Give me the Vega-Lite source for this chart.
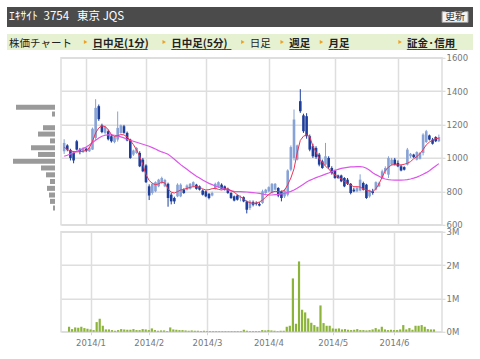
{
  "$schema": "https://vega.github.io/schema/vega-lite/v6.json",
  "background": "white",
  "padding": {"left": 7, "top": 7, "right": 0, "bottom": 0},
  "spacing": 7,
  "config": {
    "view": {"stroke": null},
    "axis": {"labelFont": "DejaVu Sans", "labelFontSize": 8.5, "labelColor": "#777777", "gridColor": "#dedede", "gridWidth": 1.5, "tickColor": "#d4d4d4", "tickSize": 3, "labelPadding": 1, "domain": false, "labelOverlap": false},
    "text": {"font": "Noto Sans CJK JP"}
  },
  "datasets": {
    "ohlc": [
      {"i":0,"date":"2013-12-19","o":1040,"h":1112,"l":1024,"c":1090,"v":150000,"maS":1065,"maL":1010},
      {"i":1,"date":"2013-12-20","o":1075,"h":1082,"l":1040,"c":1050,"v":80000,"maS":1050,"maL":1016},
      {"i":2,"date":"2013-12-24","o":1048,"h":1055,"l":985,"c":1000,"v":130000,"maS":1042,"maL":1024},
      {"i":3,"date":"2013-12-25","o":1030,"h":1040,"l":968,"c":985,"v":120000,"maS":1038,"maL":1032},
      {"i":4,"date":"2013-12-26","o":1100,"h":1108,"l":1045,"c":1050,"v":150000,"maS":1036,"maL":1040},
      {"i":5,"date":"2013-12-27","o":1050,"h":1060,"l":1022,"c":1040,"v":110000,"maS":1038,"maL":1048},
      {"i":6,"date":"2013-12-30","o":1035,"h":1065,"l":1030,"c":1058,"v":90000,"maS":1040,"maL":1056},
      {"i":7,"date":"2014-01-06","o":1055,"h":1062,"l":1035,"c":1042,"v":70000,"maS":1046,"maL":1066},
      {"i":8,"date":"2014-01-07","o":1040,"h":1068,"l":1036,"c":1062,"v":50000,"maS":1060,"maL":1078},
      {"i":9,"date":"2014-01-08","o":1050,"h":1182,"l":1048,"c":1175,"v":290000,"maS":1100,"maL":1092},
      {"i":10,"date":"2014-01-09","o":1120,"h":1352,"l":1108,"c":1300,"v":390000,"maS":1150,"maL":1106},
      {"i":11,"date":"2014-01-10","o":1310,"h":1320,"l":1222,"c":1232,"v":180000,"maS":1180,"maL":1120},
      {"i":12,"date":"2014-01-14","o":1195,"h":1205,"l":1148,"c":1155,"v":70000,"maS":1192,"maL":1130},
      {"i":13,"date":"2014-01-15","o":1150,"h":1192,"l":1140,"c":1185,"v":70000,"maS":1188,"maL":1136},
      {"i":14,"date":"2014-01-16","o":1160,"h":1170,"l":1105,"c":1112,"v":50000,"maS":1170,"maL":1138},
      {"i":15,"date":"2014-01-17","o":1130,"h":1140,"l":1092,"c":1100,"v":30000,"maS":1140,"maL":1138},
      {"i":16,"date":"2014-01-20","o":1095,"h":1130,"l":1088,"c":1125,"v":50000,"maS":1128,"maL":1136},
      {"i":17,"date":"2014-01-21","o":1110,"h":1278,"l":1098,"c":1180,"v":80000,"maS":1134,"maL":1132},
      {"i":18,"date":"2014-01-22","o":1150,"h":1200,"l":1145,"c":1195,"v":70000,"maS":1140,"maL":1126},
      {"i":19,"date":"2014-01-23","o":1190,"h":1198,"l":1145,"c":1150,"v":60000,"maS":1138,"maL":1120},
      {"i":20,"date":"2014-01-24","o":1150,"h":1158,"l":1100,"c":1105,"v":60000,"maS":1125,"maL":1112},
      {"i":21,"date":"2014-01-27","o":1110,"h":1115,"l":995,"c":1000,"v":80000,"maS":1105,"maL":1106},
      {"i":22,"date":"2014-01-28","o":1020,"h":1050,"l":1012,"c":1045,"v":50000,"maS":1080,"maL":1100},
      {"i":23,"date":"2014-01-29","o":1030,"h":1065,"l":1025,"c":1060,"v":50000,"maS":1048,"maL":1094},
      {"i":24,"date":"2014-01-30","o":1030,"h":1040,"l":945,"c":950,"v":80000,"maS":1010,"maL":1088},
      {"i":25,"date":"2014-01-31","o":990,"h":1000,"l":915,"c":920,"v":70000,"maS":960,"maL":1082},
      {"i":26,"date":"2014-02-03","o":955,"h":962,"l":850,"c":855,"v":50000,"maS":900,"maL":1076},
      {"i":27,"date":"2014-02-04","o":830,"h":842,"l":748,"c":775,"v":100000,"maS":865,"maL":1070},
      {"i":28,"date":"2014-02-05","o":790,"h":852,"l":780,"c":845,"v":50000,"maS":848,"maL":1062},
      {"i":29,"date":"2014-02-06","o":800,"h":860,"l":795,"c":855,"v":30000,"maS":840,"maL":1054},
      {"i":30,"date":"2014-02-07","o":830,"h":875,"l":825,"c":870,"v":40000,"maS":845,"maL":1044},
      {"i":31,"date":"2014-02-10","o":850,"h":888,"l":845,"c":880,"v":40000,"maS":855,"maL":1036},
      {"i":32,"date":"2014-02-12","o":830,"h":875,"l":825,"c":868,"v":20000,"maS":850,"maL":1030},
      {"i":33,"date":"2014-02-13","o":845,"h":852,"l":708,"c":760,"v":130000,"maS":815,"maL":1022},
      {"i":34,"date":"2014-02-14","o":780,"h":790,"l":722,"c":740,"v":70000,"maS":795,"maL":1008},
      {"i":35,"date":"2014-02-17","o":760,"h":768,"l":725,"c":740,"v":60000,"maS":790,"maL":992},
      {"i":36,"date":"2014-02-18","o":770,"h":848,"l":765,"c":840,"v":50000,"maS":798,"maL":976},
      {"i":37,"date":"2014-02-19","o":770,"h":848,"l":765,"c":840,"v":50000,"maS":808,"maL":960},
      {"i":38,"date":"2014-02-20","o":810,"h":818,"l":785,"c":790,"v":40000,"maS":812,"maL":946},
      {"i":39,"date":"2014-02-21","o":810,"h":842,"l":805,"c":835,"v":30000,"maS":818,"maL":932},
      {"i":40,"date":"2014-02-24","o":815,"h":850,"l":810,"c":845,"v":40000,"maS":824,"maL":918},
      {"i":41,"date":"2014-02-25","o":830,"h":860,"l":825,"c":855,"v":30000,"maS":828,"maL":904},
      {"i":42,"date":"2014-02-26","o":840,"h":845,"l":810,"c":815,"v":30000,"maS":828,"maL":890},
      {"i":43,"date":"2014-02-27","o":830,"h":835,"l":805,"c":810,"v":20000,"maS":825,"maL":880},
      {"i":44,"date":"2014-02-28","o":805,"h":812,"l":775,"c":780,"v":30000,"maS":815,"maL":868},
      {"i":45,"date":"2014-03-03","o":800,"h":805,"l":765,"c":770,"v":20000,"maS":808,"maL":858},
      {"i":46,"date":"2014-03-04","o":785,"h":790,"l":752,"c":760,"v":20000,"maS":810,"maL":848},
      {"i":47,"date":"2014-03-05","o":775,"h":798,"l":770,"c":790,"v":20000,"maS":816,"maL":840},
      {"i":48,"date":"2014-03-06","o":815,"h":852,"l":810,"c":845,"v":20000,"maS":818,"maL":832},
      {"i":49,"date":"2014-03-07","o":825,"h":860,"l":820,"c":855,"v":20000,"maS":812,"maL":826},
      {"i":50,"date":"2014-03-10","o":840,"h":848,"l":812,"c":815,"v":20000,"maS":808,"maL":820},
      {"i":51,"date":"2014-03-11","o":830,"h":835,"l":805,"c":810,"v":20000,"maS":814,"maL":814},
      {"i":52,"date":"2014-03-12","o":815,"h":822,"l":785,"c":790,"v":20000,"maS":815,"maL":808},
      {"i":53,"date":"2014-03-13","o":790,"h":795,"l":755,"c":760,"v":20000,"maS":805,"maL":803},
      {"i":54,"date":"2014-03-14","o":770,"h":775,"l":740,"c":745,"v":20000,"maS":795,"maL":800},
      {"i":55,"date":"2014-03-17","o":775,"h":780,"l":745,"c":750,"v":20000,"maS":780,"maL":798},
      {"i":56,"date":"2014-03-18","o":760,"h":775,"l":740,"c":765,"v":20000,"maS":768,"maL":798},
      {"i":57,"date":"2014-03-19","o":765,"h":770,"l":735,"c":740,"v":60000,"maS":755,"maL":797},
      {"i":58,"date":"2014-03-20","o":740,"h":745,"l":668,"c":690,"v":30000,"maS":740,"maL":796},
      {"i":59,"date":"2014-03-24","o":700,"h":748,"l":688,"c":740,"v":20000,"maS":732,"maL":794},
      {"i":60,"date":"2014-03-25","o":735,"h":745,"l":710,"c":720,"v":20000,"maS":728,"maL":792},
      {"i":61,"date":"2014-03-26","o":730,"h":740,"l":715,"c":725,"v":20000,"maS":730,"maL":790},
      {"i":62,"date":"2014-03-27","o":725,"h":735,"l":710,"c":715,"v":20000,"maS":736,"maL":788},
      {"i":63,"date":"2014-03-28","o":730,"h":810,"l":725,"c":800,"v":50000,"maS":748,"maL":784},
      {"i":64,"date":"2014-03-31","o":790,"h":815,"l":785,"c":810,"v":40000,"maS":765,"maL":780},
      {"i":65,"date":"2014-04-01","o":800,"h":830,"l":795,"c":825,"v":50000,"maS":782,"maL":778},
      {"i":66,"date":"2014-04-02","o":790,"h":850,"l":785,"c":845,"v":40000,"maS":795,"maL":778},
      {"i":67,"date":"2014-04-03","o":810,"h":850,"l":805,"c":845,"v":30000,"maS":800,"maL":780},
      {"i":68,"date":"2014-04-04","o":820,"h":825,"l":765,"c":775,"v":20000,"maS":798,"maL":782},
      {"i":69,"date":"2014-04-07","o":800,"h":805,"l":740,"c":760,"v":30000,"maS":800,"maL":785},
      {"i":70,"date":"2014-04-08","o":770,"h":815,"l":760,"c":805,"v":30000,"maS":806,"maL":788},
      {"i":71,"date":"2014-04-09","o":780,"h":932,"l":770,"c":925,"v":150000,"maS":840,"maL":794},
      {"i":72,"date":"2014-04-10","o":930,"h":1075,"l":920,"c":1065,"v":180000,"maS":880,"maL":800},
      {"i":73,"date":"2014-04-11","o":1000,"h":1290,"l":985,"c":1230,"v":1600000,"maS":935,"maL":808},
      {"i":74,"date":"2014-04-14","o":990,"h":1080,"l":985,"c":1075,"v":240000,"maS":1030,"maL":818},
      {"i":75,"date":"2014-04-15","o":1340,"h":1412,"l":1270,"c":1280,"v":2110000,"maS":1105,"maL":830},
      {"i":76,"date":"2014-04-16","o":1255,"h":1265,"l":1150,"c":1160,"v":660000,"maS":1130,"maL":843},
      {"i":77,"date":"2014-04-17","o":1250,"h":1268,"l":1115,"c":1130,"v":580000,"maS":1138,"maL":856},
      {"i":78,"date":"2014-04-18","o":1130,"h":1140,"l":1040,"c":1050,"v":400000,"maS":1128,"maL":866},
      {"i":79,"date":"2014-04-21","o":1070,"h":1085,"l":1000,"c":1010,"v":270000,"maS":1070,"maL":874},
      {"i":80,"date":"2014-04-22","o":1060,"h":1070,"l":995,"c":1005,"v":200000,"maS":1035,"maL":882},
      {"i":81,"date":"2014-04-23","o":1020,"h":1030,"l":950,"c":960,"v":150000,"maS":995,"maL":889},
      {"i":82,"date":"2014-04-24","o":980,"h":990,"l":935,"c":940,"v":790000,"maS":975,"maL":896},
      {"i":83,"date":"2014-04-25","o":960,"h":1090,"l":955,"c":1010,"v":260000,"maS":950,"maL":903},
      {"i":84,"date":"2014-04-28","o":1000,"h":1010,"l":935,"c":945,"v":180000,"maS":935,"maL":910},
      {"i":85,"date":"2014-04-30","o":940,"h":950,"l":900,"c":910,"v":180000,"maS":912,"maL":918},
      {"i":86,"date":"2014-05-01","o":925,"h":930,"l":875,"c":880,"v":100000,"maS":898,"maL":925},
      {"i":87,"date":"2014-05-02","o":895,"h":900,"l":875,"c":880,"v":90000,"maS":885,"maL":932},
      {"i":88,"date":"2014-05-07","o":895,"h":900,"l":855,"c":860,"v":100000,"maS":875,"maL":938},
      {"i":89,"date":"2014-05-08","o":880,"h":885,"l":825,"c":830,"v":70000,"maS":860,"maL":941},
      {"i":90,"date":"2014-05-09","o":870,"h":880,"l":838,"c":845,"v":80000,"maS":848,"maL":944},
      {"i":91,"date":"2014-05-12","o":845,"h":850,"l":782,"c":790,"v":60000,"maS":838,"maL":946},
      {"i":92,"date":"2014-05-13","o":810,"h":822,"l":795,"c":800,"v":50000,"maS":828,"maL":947},
      {"i":93,"date":"2014-05-14","o":800,"h":828,"l":795,"c":822,"v":60000,"maS":828,"maL":948},
      {"i":94,"date":"2014-05-15","o":805,"h":902,"l":800,"c":870,"v":80000,"maS":826,"maL":948},
      {"i":95,"date":"2014-05-16","o":850,"h":858,"l":805,"c":810,"v":50000,"maS":815,"maL":946},
      {"i":96,"date":"2014-05-19","o":840,"h":845,"l":755,"c":760,"v":50000,"maS":808,"maL":938},
      {"i":97,"date":"2014-05-20","o":770,"h":810,"l":762,"c":805,"v":40000,"maS":802,"maL":926},
      {"i":98,"date":"2014-05-21","o":800,"h":815,"l":780,"c":790,"v":50000,"maS":798,"maL":912},
      {"i":99,"date":"2014-05-22","o":810,"h":860,"l":805,"c":855,"v":70000,"maS":815,"maL":900},
      {"i":100,"date":"2014-05-23","o":830,"h":858,"l":825,"c":850,"v":110000,"maS":845,"maL":890},
      {"i":101,"date":"2014-05-26","o":880,"h":930,"l":875,"c":920,"v":70000,"maS":885,"maL":880},
      {"i":102,"date":"2014-05-27","o":920,"h":950,"l":905,"c":940,"v":150000,"maS":925,"maL":874},
      {"i":103,"date":"2014-05-28","o":900,"h":1010,"l":880,"c":1000,"v":70000,"maS":945,"maL":870},
      {"i":104,"date":"2014-05-29","o":960,"h":1000,"l":955,"c":990,"v":50000,"maS":958,"maL":868},
      {"i":105,"date":"2014-05-30","o":990,"h":1000,"l":955,"c":960,"v":60000,"maS":960,"maL":867},
      {"i":106,"date":"2014-06-02","o":970,"h":985,"l":945,"c":950,"v":50000,"maS":958,"maL":867},
      {"i":107,"date":"2014-06-03","o":950,"h":960,"l":920,"c":925,"v":50000,"maS":958,"maL":867},
      {"i":108,"date":"2014-06-04","o":945,"h":950,"l":925,"c":930,"v":70000,"maS":962,"maL":868},
      {"i":109,"date":"2014-06-05","o":960,"h":1060,"l":955,"c":1050,"v":200000,"maS":968,"maL":870},
      {"i":110,"date":"2014-06-06","o":1010,"h":1030,"l":1000,"c":1025,"v":70000,"maS":978,"maL":874},
      {"i":111,"date":"2014-06-09","o":1020,"h":1025,"l":1000,"c":1005,"v":110000,"maS":995,"maL":879},
      {"i":112,"date":"2014-06-10","o":990,"h":1040,"l":985,"c":1035,"v":60000,"maS":1008,"maL":885},
      {"i":113,"date":"2014-06-11","o":995,"h":1035,"l":990,"c":1030,"v":180000,"maS":1025,"maL":893},
      {"i":114,"date":"2014-06-12","o":1030,"h":1148,"l":1015,"c":1140,"v":180000,"maS":1050,"maL":902},
      {"i":115,"date":"2014-06-13","o":1095,"h":1168,"l":1090,"c":1160,"v":200000,"maS":1078,"maL":912},
      {"i":116,"date":"2014-06-16","o":1135,"h":1140,"l":1105,"c":1110,"v":150000,"maS":1095,"maL":924},
      {"i":117,"date":"2014-06-17","o":1110,"h":1120,"l":1080,"c":1085,"v":80000,"maS":1108,"maL":938},
      {"i":118,"date":"2014-06-18","o":1125,"h":1130,"l":1095,"c":1100,"v":70000,"maS":1115,"maL":952},
      {"i":119,"date":"2014-06-19","o":1100,"h":1140,"l":1095,"c":1125,"v":70000,"maS":1118,"maL":966}
    ],
    "vbp": [
      {"lo":1288,"hi":1318,"vol":39},
      {"lo":1248,"hi":1278,"vol":3},
      {"lo":1166,"hi":1196,"vol":12},
      {"lo":1128,"hi":1158,"vol":17},
      {"lo":1087,"hi":1117,"vol":5},
      {"lo":1046,"hi":1076,"vol":24},
      {"lo":1006,"hi":1036,"vol":17},
      {"lo":965,"hi":995,"vol":42},
      {"lo":925,"hi":955,"vol":14},
      {"lo":884,"hi":914,"vol":9},
      {"lo":844,"hi":874,"vol":5},
      {"lo":803,"hi":833,"vol":8},
      {"lo":763,"hi":793,"vol":6},
      {"lo":725,"hi":755,"vol":5},
      {"lo":685,"hi":715,"vol":2}
    ]
  },
  "vconcat": [
    {
      "width": 466, "height": 20,
      "view": {"fill": "#4b4b4b", "stroke": null},
      "data": {"values": [{"label": "ｴｷｻｲﾄ\u20023754\u2002\u2009東京 JQS", "side": "left"}, {"label": "更新", "side": "right"}]},
      "encoding": {"x": {"field": "side", "type": "nominal", "axis": null, "scale": {"type": "band", "domain": ["left", "right"], "paddingInner": 0, "paddingOuter": 0}}},
      "layer": [
        {"transform": [{"filter": "datum.side == 'left'"}], "mark": {"type": "text", "align": "left", "dx": 2, "fontSize": 11.5, "color": "#ffffff"}, "encoding": {"x": {"field": "side", "type": "nominal", "bandPosition": 0}, "text": {"field": "label"}}},
        {"transform": [{"filter": "datum.side == 'right'"}], "mark": {"type": "point", "shape": "M-1.3,-0.54H1.3V0.54H-1.3Z", "size": 400, "filled": true, "fill": "#f3f3f3", "stroke": "#999999", "strokeWidth": 1, "opacity": 1}, "encoding": {"x": {"field": "side", "type": "nominal", "bandPosition": 0.923}}},
        {"transform": [{"filter": "datum.side == 'right'"}], "mark": {"type": "text", "align": "center", "fontSize": 10, "color": "#333333"}, "encoding": {"x": {"field": "side", "type": "nominal", "bandPosition": 0.923}, "text": {"field": "label"}}}
      ]
    },
    {
      "spacing": 2.75,
      "vconcat": [
        {
          "width": 466, "height": 16,
          "view": {"fill": "#e6f1d2", "stroke": null},
          "data": {"values": [
            {"label": "株価チャート", "kind": "head", "ul": ""},
            {"label": "日中足(1分)", "kind": "link", "ul": "___________"},
            {"label": "日中足(5分)", "kind": "link", "ul": "____________"},
            {"label": "日足", "kind": "plain", "ul": ""},
            {"label": "週足", "kind": "link", "ul": "____"},
            {"label": "月足", "kind": "link", "ul": "____"},
            {"label": "証金·信用", "kind": "link", "ul": "__________"}
          ]},
          "encoding": {"x": {"field": "label", "type": "nominal", "axis": null, "scale": {"type": "point", "domain": ["株価チャート", "_a", "日中足(1分)", "_b", "日中足(5分)", "_c", "日足", "週足", "月足", "_d", "証金·信用"], "padding": 0.927, "align": 0}}},
          "layer": [
            {"transform": [{"filter": "datum.kind != 'head'"}], "mark": {"type": "point", "shape": "triangle-right", "size": 16, "filled": true, "color": "#f0a020", "opacity": 1}},
            {"transform": [{"filter": "datum.kind == 'head'"}], "mark": {"type": "text", "align": "left", "baseline": "alphabetic", "dx": 2, "dy": 4.5, "fontSize": 10.5, "color": "#222222"}, "encoding": {"text": {"field": "label"}}},
            {"transform": [{"filter": "datum.kind == 'link'"}], "mark": {"type": "text", "align": "left", "baseline": "alphabetic", "dx": 7, "dy": 4.5, "fontSize": 10.5, "fontWeight": "bold", "color": "#222222"}, "encoding": {"text": {"field": "label"}}},
            {"transform": [{"filter": "datum.kind == 'link'"}], "mark": {"type": "text", "align": "left", "baseline": "alphabetic", "dx": 7, "dy": 4.5, "font": "DejaVu Sans", "fontSize": 10, "color": "#222222"}, "encoding": {"text": {"field": "ul"}}},
            {"transform": [{"filter": "datum.kind == 'plain'"}], "mark": {"type": "text", "align": "left", "baseline": "alphabetic", "dx": 7, "dy": 4.5, "fontSize": 10.5, "color": "#222222"}, "encoding": {"text": {"field": "label"}}}
          ]
        },
        {
          "spacing": -4,
          "vconcat": [
            {
              "spacing": 5,
              "hconcat": [
                {
                  "width": 48, "height": 167,
                  "data": {"name": "vbp"},
                  "mark": {"type": "rect", "color": "#9a9a9a"},
                  "encoding": {
                    "x": {"field": "vol", "type": "quantitative", "axis": null, "scale": {"domain": [0, 48], "reverse": true, "nice": false}},
                    "x2": {"datum": 0},
                    "y": {"field": "lo", "type": "quantitative", "axis": null, "scale": {"domain": [600, 1600], "nice": false, "zero": false}},
                    "y2": {"field": "hi"}
                  }
                },
                {
                  "width": 381, "height": 167,
                  "view": {"stroke": "#dedede", "strokeWidth": 1.5},
                  "data": {"name": "ohlc"},
                  "encoding": {
                    "x": {"field": "i", "type": "quantitative", "title": null, "scale": {"domain": [-1, 120], "nice": false, "zero": false}, "axis": {"values": [7, 26, 45, 65, 86, 106], "labels": false, "ticks": false, "grid": true}}
                  },
                  "layer": [
                    {"mark": {"type": "rule", "strokeWidth": 1}, "encoding": {
                      "y": {"field": "l", "type": "quantitative", "title": null, "scale": {"domain": [600, 1600], "nice": false, "zero": false}, "axis": {"orient": "right", "values": [600, 800, 1000, 1200, 1400, 1600], "format": "d", "grid": true, "labelOverlap": false, "labelBound": false, "labelFlush": false}},
                      "y2": {"field": "h"},
                      "color": {"condition": {"test": "datum.c >= datum.o", "value": "#86a2d6"}, "value": "#1d3e9b"}}},
                    {"mark": {"type": "rule", "strokeWidth": 2.6}, "encoding": {
                      "y": {"field": "o", "type": "quantitative", "title": null, "axis": {"orient": "right", "values": [600, 800, 1000, 1200, 1400, 1600], "format": "d", "grid": true, "labelOverlap": false, "labelBound": false, "labelFlush": false}},
                      "y2": {"field": "c"},
                      "color": {"condition": {"test": "datum.c >= datum.o", "value": "#86a2d6"}, "value": "#1d3e9b"}}},
                    {"mark": {"type": "line", "color": "#dd55ea", "strokeWidth": 1.2}, "encoding": {"y": {"field": "maL", "type": "quantitative", "title": null, "axis": {"orient": "right", "values": [600, 800, 1000, 1200, 1400, 1600], "format": "d", "grid": true, "labelOverlap": false, "labelBound": false, "labelFlush": false}}}},
                    {"mark": {"type": "line", "color": "#ee3355", "strokeWidth": 1}, "encoding": {"y": {"field": "maS", "type": "quantitative", "title": null, "axis": {"orient": "right", "values": [600, 800, 1000, 1200, 1400, 1600], "format": "d", "grid": true, "labelOverlap": false, "labelBound": false, "labelFlush": false}}}}
                  ]
                }
              ]
            },
            {
              "spacing": 5,
              "hconcat": [
                {
                  "width": 48, "height": 100,
                  "data": {"values": []},
                  "mark": "point"
                },
                {
                  "width": 381, "height": 100,
                  "view": {"stroke": "#dedede", "strokeWidth": 1.5},
                  "data": {"name": "ohlc"},
                  "mark": {"type": "bar", "width": 2.2, "color": "#8cb43a"},
                  "encoding": {
                    "x": {"field": "i", "type": "quantitative", "title": null, "scale": {"domain": [-1, 120], "nice": false, "zero": false}, "axis": {"values": [7, 26, 45, 65, 86, 106], "grid": true, "labelPadding": 4, "labelExpr": "datum.value == 7 ? '2014/1' : datum.value == 26 ? '2014/2' : datum.value == 45 ? '2014/3' : datum.value == 65 ? '2014/4' : datum.value == 86 ? '2014/5' : '2014/6'"}},
                    "y": {"field": "v", "type": "quantitative", "title": null, "scale": {"domain": [0, 3000000], "nice": false}, "axis": {"orient": "right", "values": [0, 1000000, 2000000, 3000000], "grid": true, "labelOverlap": false, "labelFlush": false, "labelExpr": "(datum.value / 1000000) + 'M'"}}
                  }
                }
              ]
            }
          ]
        }
      ]
    }
  ]
}
